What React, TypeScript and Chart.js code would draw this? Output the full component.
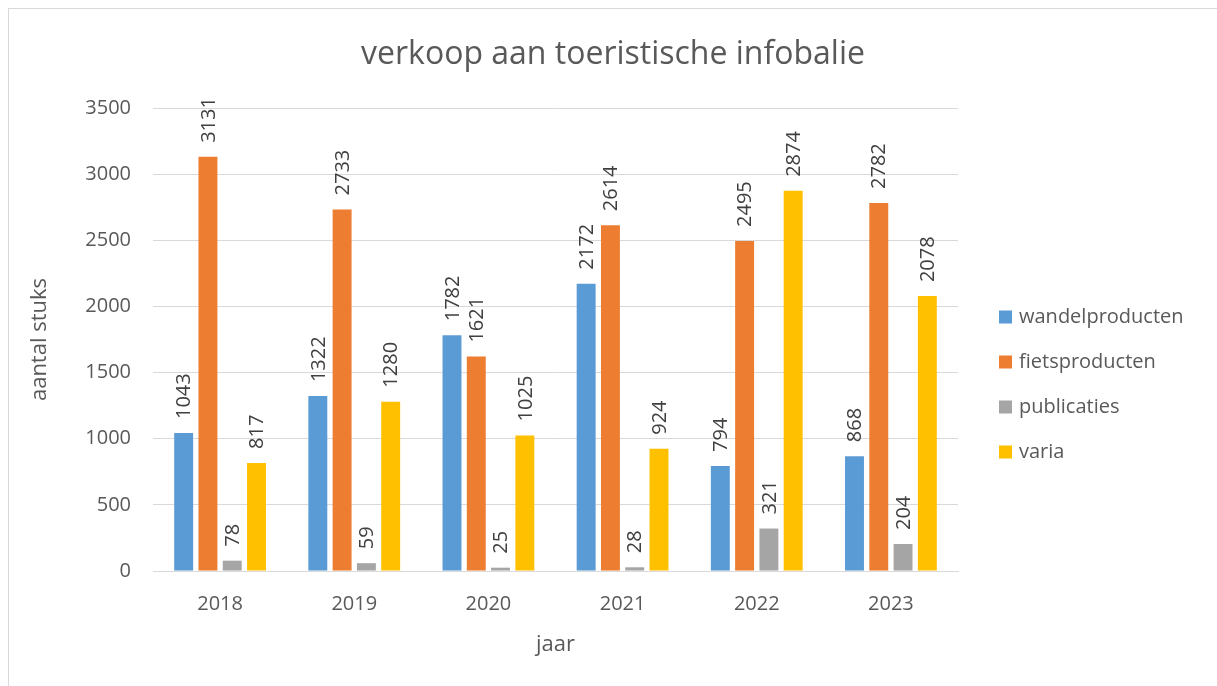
import React, { useEffect, useRef } from "react";
import { Chart, registerables } from "chart.js";

Chart.register(...registerables);

const years = ["2018", "2019", "2020", "2021", "2022", "2023"];
const wandelproducten = [1043, 1322, 1782, 2172, 794, 868];
const fietsproducten = [3131, 2733, 1621, 2614, 2495, 2782];
const publicaties = [78, 59, 25, 28, 321, 204];
const varia = [817, 1280, 1025, 924, 2874, 2078];
const seriesNames = ["wandelproducten", "fietsproducten", "publicaties", "varia"];
const seriesColors = ["#5B9BD5", "#ED7D31", "#A5A5A5", "#FFC000"];
const chartTitle = "verkoop aan toeristische infobalie";

const FONT = "'Open Sans', 'DejaVu Sans', sans-serif";
const TEXT = "#595959";

const labelPlugin = {
  id: "barLabels",
  afterDatasetsDraw(chart: any) {
    const ctx = chart.ctx;
    ctx.save();
    ctx.font = `20px ${FONT}`;
    ctx.fillStyle = "#404040";
    ctx.textAlign = "left";
    ctx.textBaseline = "middle";
    chart.data.datasets.forEach((ds: any, di: number) => {
      const meta = chart.getDatasetMeta(di);
      meta.data.forEach((el: any, i: number) => {
        ctx.save();
        ctx.translate(el.x + 1, el.y - 14);
        ctx.rotate(-Math.PI / 2);
        ctx.fillText(String(ds.data[i]), 0, 0);
        ctx.restore();
      });
    });
    ctx.restore();
  },
};

const legendPlugin = {
  id: "sideLegend",
  afterDraw(chart: any) {
    const ctx = chart.ctx;
    const area = chart.chartArea;
    const x0 = area.right + 41;
    const y0 = area.top + 209;
    ctx.save();
    ctx.font = `20px ${FONT}`;
    ctx.textAlign = "left";
    ctx.textBaseline = "middle";
    chart.data.datasets.forEach((ds: any, i: number) => {
      const y = y0 + i * 45;
      ctx.fillStyle = ds.backgroundColor;
      ctx.fillRect(x0, y - 6.5, 13, 13);
      ctx.fillStyle = TEXT;
      ctx.fillText(ds.label, x0 + 20, y);
    });
    ctx.restore();
  },
};

const titlePlugin = {
  id: "fullTitle",
  afterDraw(chart: any) {
    const ctx = chart.ctx;
    ctx.save();
    ctx.font = `32px ${FONT}`;
    ctx.fillStyle = TEXT;
    ctx.textAlign = "center";
    ctx.textBaseline = "middle";
    ctx.fillText(chartTitle, chart.width / 2, 46);
    ctx.restore();
  },
};

export default function App() {
  const ref = useRef<HTMLCanvasElement>(null);
  useEffect(() => {
    if (!ref.current) return;
    const allSeries = [wandelproducten, fietsproducten, publicaties, varia];
    const chart = new Chart(ref.current, {
      type: "bar",
      data: {
        labels: years,
        datasets: allSeries.map((d, i) => ({
          label: seriesNames[i],
          data: d,
          backgroundColor: seriesColors[i],
          categoryPercentage: 0.724,
          barPercentage: 0.78,
        })),
      },
      options: {
        responsive: false,
        animation: false,
        layout: { padding: { left: 0, right: 259, top: 99, bottom: 0 } },
        plugins: {
          legend: { display: false },
          tooltip: { enabled: false },
          title: { display: false },
        },
        scales: {
          x: {
            grid: { display: false, drawTicks: false },
            border: { display: true, color: "#D9D9D9" },
            ticks: { color: TEXT, font: { family: FONT, size: 20 }, padding: 21 },
            title: {
              display: true,
              text: "jaar",
              color: TEXT,
              font: { family: FONT, size: 22 },
              padding: { top: 0, bottom: 28 },
            },
            afterFit: (s: any) => {
              s.height = 115;
            },
          },
          y: {
            min: 0,
            max: 3500,
            ticks: {
              stepSize: 500,
              color: TEXT,
              font: { family: FONT, size: 20 },
              padding: 22,
              callback: (v: any) => String(v),
            },
            grid: { color: "#D9D9D9", drawTicks: false },
            border: { display: false },
            title: {
              display: true,
              text: "aantal stuks",
              color: TEXT,
              font: { family: FONT, size: 22 },
              padding: { top: 18, bottom: 0 },
            },
            afterFit: (s: any) => {
              s.width = 144;
            },
          },
        },
      },
      plugins: [labelPlugin, legendPlugin, titlePlugin],
    });
    return () => chart.destroy();
  }, []);
  return (
    <div
      style={{
        position: "fixed",
        left: 8,
        top: 8,
        width: 1209,
        height: 678,
        overflow: "hidden",
        borderLeft: "1px solid #D9D9D9",
        borderTop: "1px solid #D9D9D9",
        background: "#fff",
      }}
    >
      <canvas ref={ref} width={1208} height={677} style={{ display: "block" }} />
    </div>
  );
}
